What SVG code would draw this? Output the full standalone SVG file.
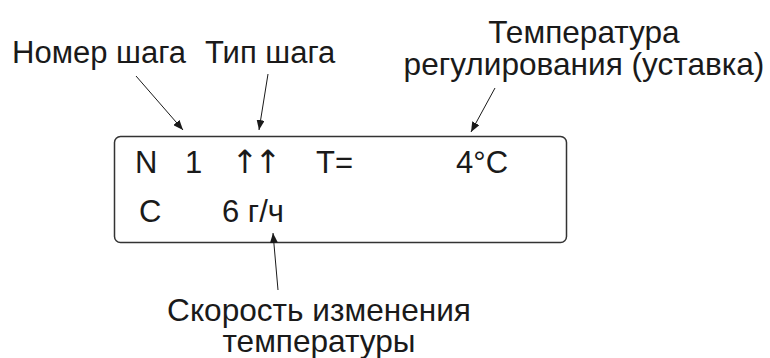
<svg xmlns="http://www.w3.org/2000/svg" width="770" height="358" viewBox="0 0 770 358">
<defs>
<style>
text{font-family:"Liberation Sans",Arial,sans-serif;font-size:31px;fill:#1a1a1a}
.c{text-anchor:middle;font-size:31.6px}
.arr{font-family:"DejaVu Sans",sans-serif;text-anchor:middle;font-size:32px}
.ln{stroke:#1a1a1a;stroke-width:1;fill:none;marker-end:url(#ah)}
</style>
<marker id="ah" viewBox="0 0 10 8" refX="10" refY="4" markerWidth="10" markerHeight="8" markerUnits="userSpaceOnUse" orient="auto">
<path d="M0,0 L10,4 L0,8 Z" fill="#1a1a1a"/>
</marker>
</defs>
<rect width="770" height="358" fill="#fff"/>
<g id="display">
<rect x="114.5" y="136.5" width="452" height="106" rx="6" fill="none" stroke="#333" stroke-width="1.5"/>
<text x="135" y="173">N</text>
<text x="185" y="173">1</text>
<text class="arr" x="245 268" y="173">↑↑</text>
<text x="316" y="173">T=</text>
<text x="456" y="173">4°C</text>
<text x="139" y="222">C</text>
<text x="222" y="222">6 г/ч</text>
</g>
<g id="label-step-number"><text x="12" y="63">Номер шага</text></g>
<g id="label-step-type"><text x="205" y="63">Тип шага</text></g>
<g id="label-setpoint"><text class="c" x="584" y="43">Температура</text><text class="c" x="584" y="75">регулирования (уставка)</text></g>
<g id="label-rate"><text class="c" x="319" y="321">Скорость изменения</text><text class="c" x="319" y="352">температуры</text></g>
<g id="connectors">
<line class="ln" x1="136" y1="76" x2="183" y2="130"/>
<line class="ln" x1="268" y1="74" x2="259" y2="130"/>
<line class="ln" x1="495" y1="88" x2="471" y2="132"/>
<line class="ln" x1="278" y1="290" x2="273" y2="233"/>
</g>
</svg>
